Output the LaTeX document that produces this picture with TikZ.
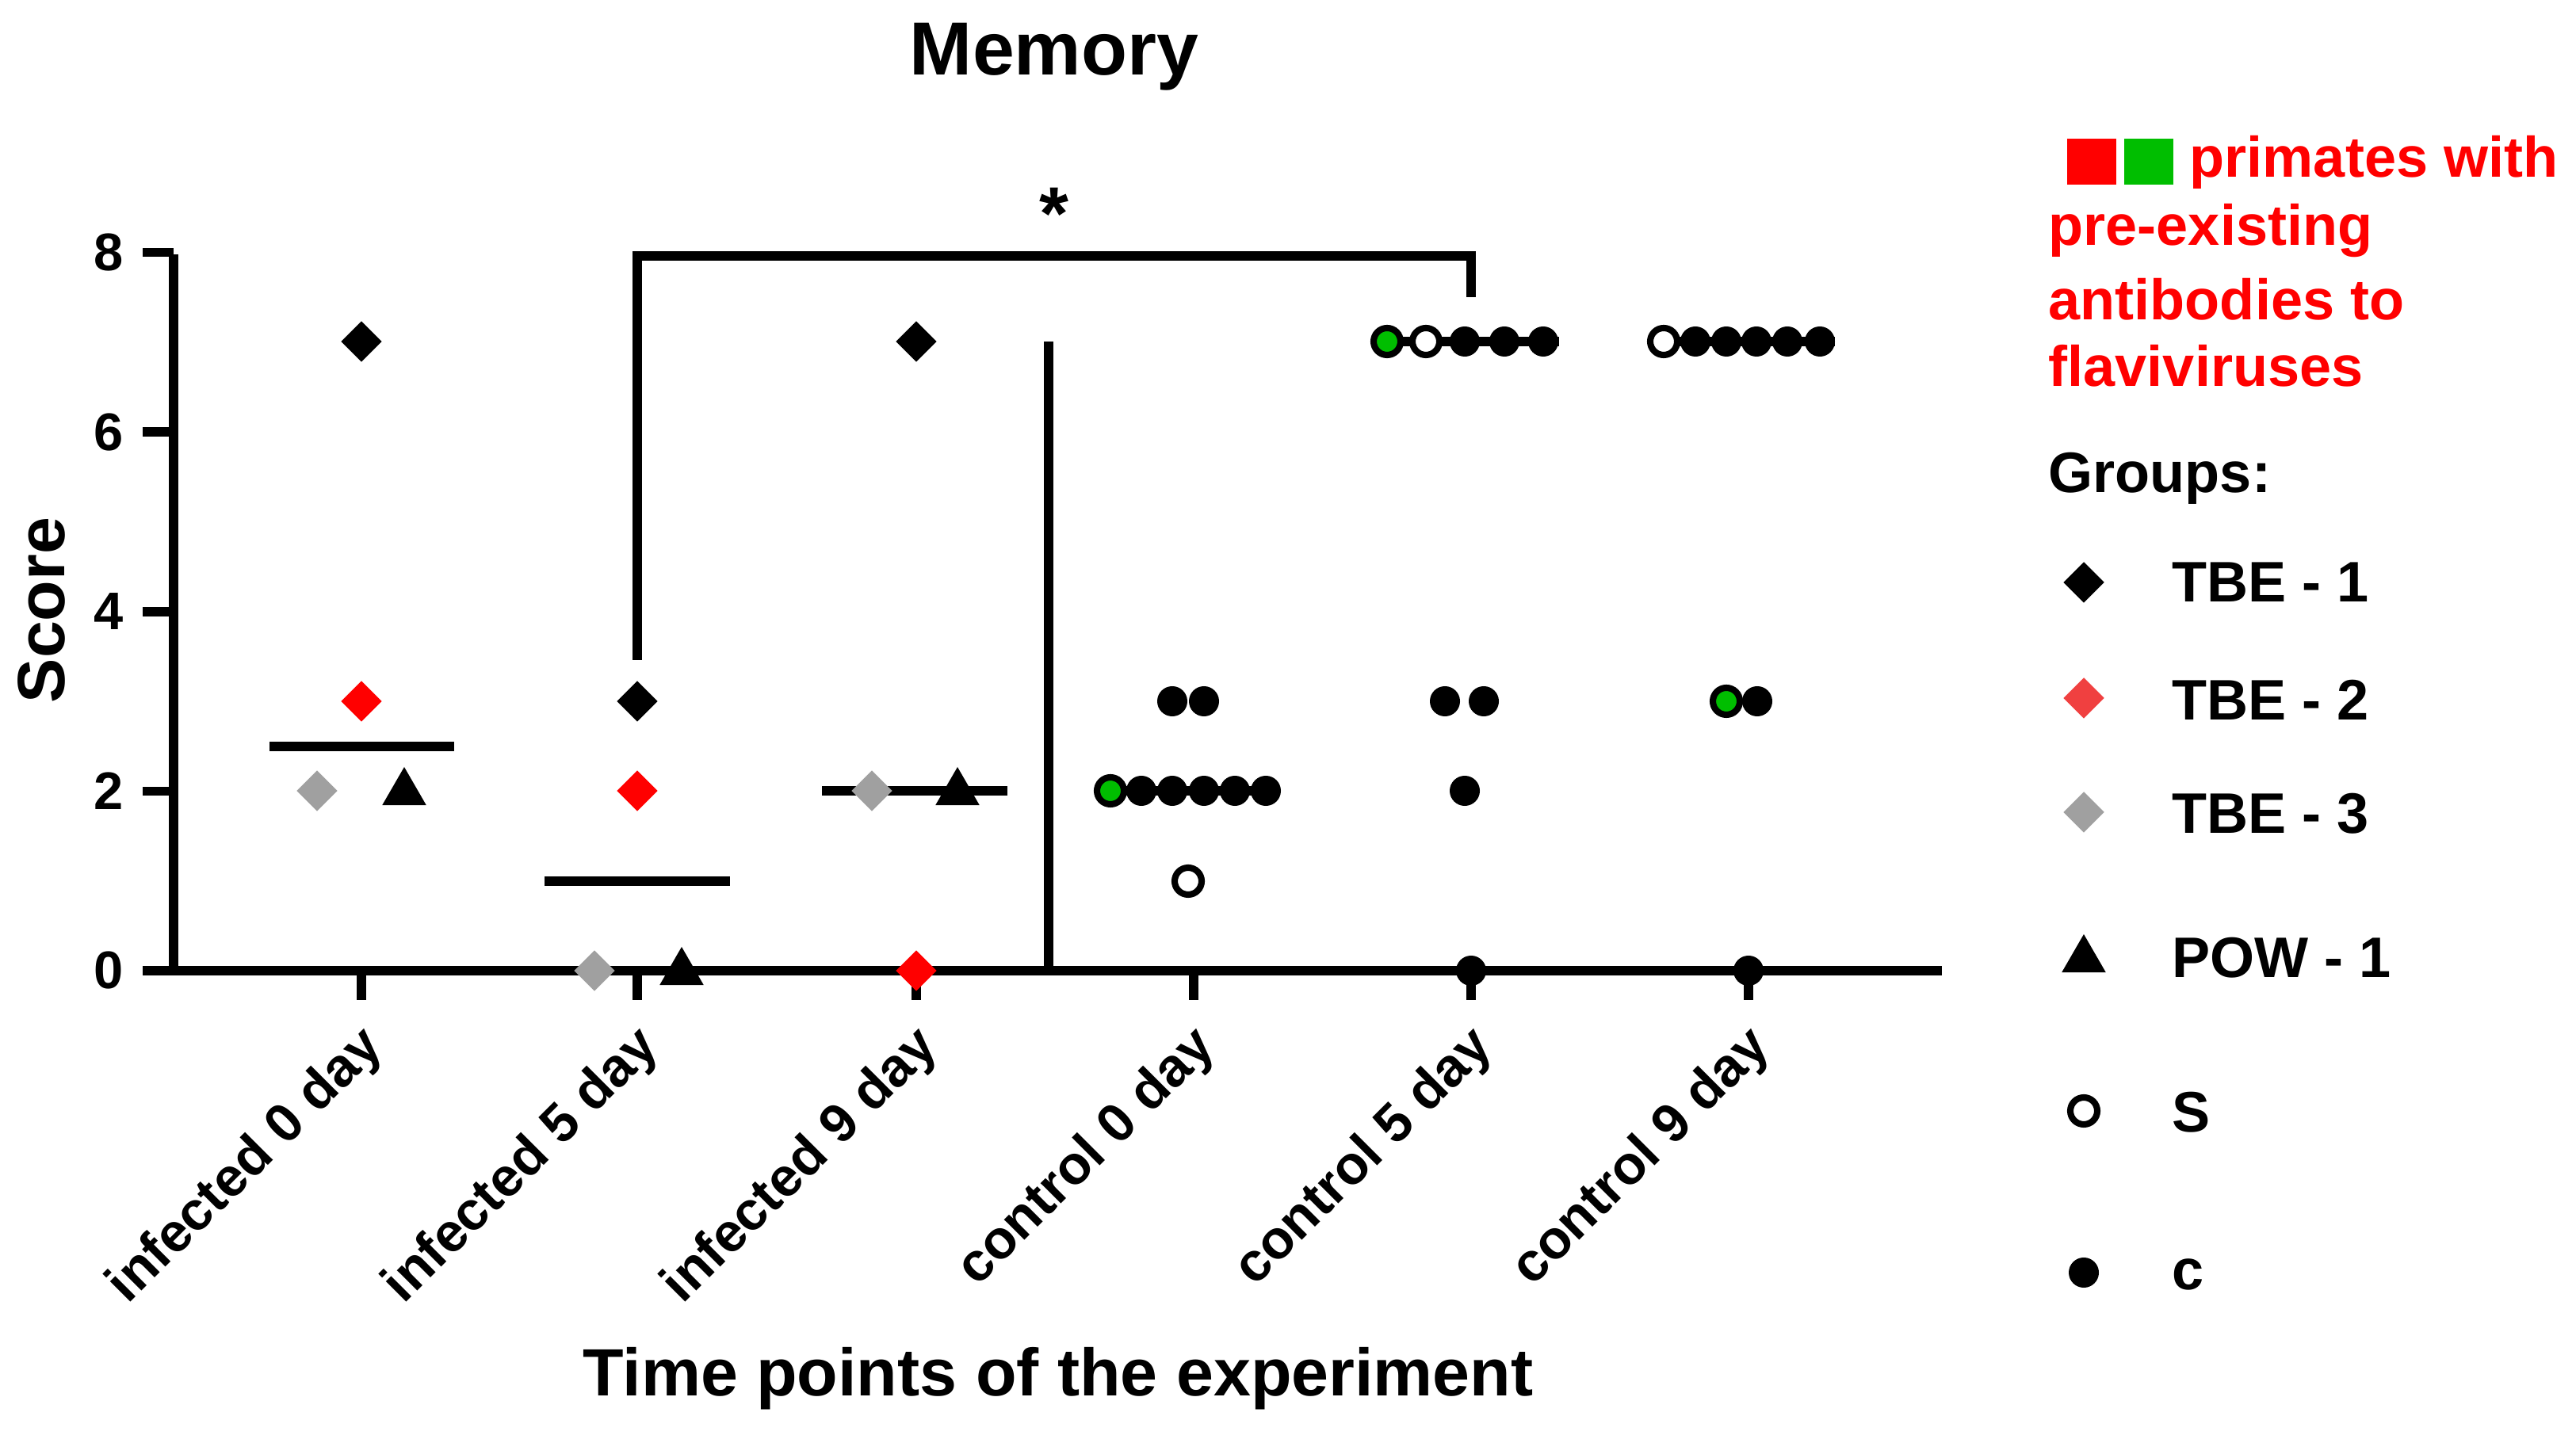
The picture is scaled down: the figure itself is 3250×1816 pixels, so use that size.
\documentclass[tikz,border=0pt]{standalone}
\usepackage{fontspec}
\setmainfont{Liberation Sans}
\usetikzlibrary{shapes.geometric}
\definecolor{myred}{RGB}{255,0,0}
\definecolor{lred}{RGB}{240,64,64}
\definecolor{mgray}{RGB}{160,160,160}
\definecolor{mgreen}{RGB}{0,190,0}
\begin{document}
\begin{tikzpicture}[x=0.01cm,y=-0.01cm,
  ax/.style={line width=3.3pt},
  dia/.style={diamond,inner sep=0pt,minimum size=0.52cm},
  tri/.style={regular polygon,regular polygon sides=3,inner sep=0pt,minimum size=0.64cm,fill=black},
  dot/.style={circle,inner sep=0pt,minimum size=0.38cm,fill=black},
  odot/.style={circle,inner sep=0pt,minimum size=0.34cm,draw=black,line width=2.3pt,fill=white},
  gdot/.style={circle,inner sep=0pt,minimum size=0.34cm,draw=black,line width=2.3pt,fill=mgreen},
  tk/.style={font=\bfseries\fontsize{19}{22}\selectfont},
  xl/.style={font=\bfseries\fontsize{19.5}{22}\selectfont,rotate=45,anchor=north east,inner sep=1pt},
  lg/.style={font=\bfseries\fontsize{20.5}{24}\selectfont,anchor=west,inner sep=0pt},
  rt/.style={lg,text=myred}]
\useasboundingbox (0,0) rectangle (3250,1816);
% title and axis labels
\node[font=\bfseries\fontsize{27}{30}\selectfont] (title) at (1330,72) {Memory};
\node[font=\bfseries\fontsize{24}{28}\selectfont,rotate=90] (ylab) at (52,770) {Score};
\node[font=\bfseries\fontsize{24}{28}\selectfont] (xlab) at (1335,1740) {Time points of the experiment};
% axes
\draw[ax] (219,321) -- (219,1225) -- (2450,1225);
\foreach \s in {0,2,4,6,8}{
  \draw[ax] (180,{1225-113.3*\s}) -- (219,{1225-113.3*\s});
  \node[tk,anchor=east] (yt\s) at (168,{1225-113.3*\s}) {\s};
}
\foreach \x/\t [count=\i] in {456/infected 0 day,804/infected 5 day,1156/infected 9 day,1506/control 0 day,1856/control 5 day,2206/control 9 day}{
  \draw[ax] (\x,1225) -- (\x,1262);
  \node[xl] (xt\i) at (\x-6,1282) {\t};
}
% separator
\draw[ax] (1323,431) -- (1323,1225);
% bracket
\coordinate (bl) at (804,833);
\coordinate (br) at (1856,375);
\draw[ax] (bl) -- (804,323) -- (1856,323) -- (br);
\node[font=\bfseries\fontsize{27}{30}\selectfont] (star) at (1330,270) {*};
% medians
\draw[ax] (340,942) -- (573,942);
\draw[ax] (687,1112) -- (921,1112);
\draw[ax] (1037,998) -- (1271,998);
\draw[ax] (1400,998) -- (1600,998);
\draw[ax] (1745,431) -- (1967,431);
\draw[ax] (2095,431) -- (2315,431);
% infected 0
\node[dia,fill=black] (a1) at (456,431) {};
\node[dia,fill=myred] (a2) at (456,885) {};
\node[dia,fill=mgray] (a3) at (400,998) {};
\node[tri] (a4) at (510,1000) {};
% infected 5
\node[dia,fill=black] (b1) at (804,885) {};
\node[dia,fill=myred] (b2) at (804,998) {};
\node[dia,fill=mgray] (b3) at (750,1225) {};
\node[tri] (b4) at (860,1227) {};
% infected 9
\node[dia,fill=black] (c1) at (1156,431) {};
\node[dia,fill=mgray] (c3) at (1100,998) {};
\node[tri] (c4) at (1208,1000) {};
\node[dia,fill=myred] (c2) at (1156,1225) {};
% control 0
\node[dot] (d1) at (1479,885) {};
\node[dot] (d2) at (1519,885) {};
\node[gdot] (d3) at (1401,998) {};
\foreach \x [count=\i] in {1440,1479,1519,1558,1597}{\node[dot] (d4\i) at (\x,998) {};}
\node[odot] (d5) at (1499,1112) {};
% control 5
\node[gdot] (e1) at (1750,431) {};
\node[odot] (e2) at (1799,431) {};
\foreach \x [count=\i] in {1848,1898,1947}{\node[dot] (e3\i) at (\x,431) {};}
\node[dot] (e4) at (1823,885) {};
\node[dot] (e5) at (1872,885) {};
\node[dot] (e6) at (1848,998) {};
\node[dot] (e7) at (1856,1225) {};
% control 9
\node[odot] (f1) at (2099,431) {};
\foreach \x [count=\i] in {2139,2178,2216,2255,2296}{\node[dot] (f2\i) at (\x,431) {};}
\node[gdot] (f3) at (2178,885) {};
\node[dot] (f4) at (2217,885) {};
\node[dot] (f5) at (2206,1225) {};
% legend
\fill[myred] (2608,175) rectangle (2670,233);
\fill[mgreen] (2680,175) rectangle (2742,233);
\node[rt] (l1) at (2762,205) {primates with};
\node[rt] (l2) at (2584,291) {pre-existing};
\node[rt] (l3) at (2584,378) {antibodies to};
\node[rt] (l4) at (2584,462) {flaviviruses};
\node[lg] (g0) at (2584,604) {Groups:};
\node[dia,fill=black] (m1) at (2629,735) {};
\node[dia,fill=lred] (m2) at (2629,881) {};
\node[dia,fill=mgray] (m3) at (2629,1025) {};
\node[tri] (m4) at (2629,1211) {};
\node[odot] (m5) at (2629,1402) {};
\node[dot] (m6) at (2629,1606) {};
\node[lg] (t1) at (2740,735) {TBE - 1};
\node[lg] (t2) at (2740,883) {TBE - 2};
\node[lg] (t3) at (2740,1027) {TBE - 3};
\node[lg] (t4) at (2740,1209) {POW - 1};
\node[lg] (t5) at (2740,1404) {S};
\node[lg] (t6) at (2740,1608) {c};
\end{tikzpicture}
\end{document}
